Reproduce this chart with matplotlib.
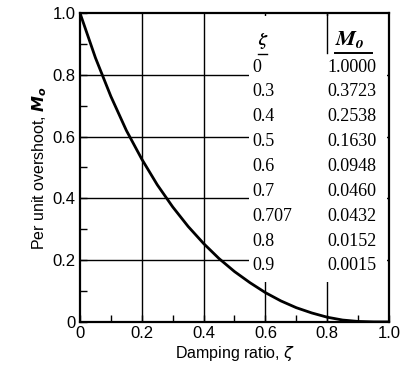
import matplotlib
matplotlib.use("Agg")
import matplotlib.pyplot as plt
from matplotlib.patches import Rectangle

# Curve values
zeta = [0, 0.05, 0.1, 0.15, 0.2, 0.25, 0.3, 0.35, 0.4, 0.45, 0.5,
        0.55, 0.6, 0.65, 0.7, 0.75, 0.8, 0.85, 0.9, 0.95, 1.0]
mo = [1.0, 0.855, 0.73, 0.62, 0.527, 0.444, 0.3723, 0.309, 0.2538, 0.205, 0.163,
      0.127, 0.0948, 0.068, 0.046, 0.029, 0.0152, 0.006, 0.0015, 0.0001, 0.0]

# Table values
table_zeta = ["0", "0.3", "0.4", "0.5", "0.6", "0.7", "0.707", "0.8", "0.9"]
table_mo = ["1.0000", "0.3723", "0.2538", "0.1630", "0.0948", "0.0460",
            "0.0432", "0.0152", "0.0015"]

major_ticks = [0, 0.2, 0.4, 0.6, 0.8, 1.0]
tick_labels = ["0", "0.2", "0.4", "0.6", "0.8", "1.0"]
minor_ticks = [0.1, 0.3, 0.5, 0.7, 0.9]

fig = plt.figure(figsize=(4.0, 3.73), dpi=100)
ax = fig.add_axes([0.2, 0.137, 0.7725, 0.828])

ax.set_xlim(0, 1)
ax.set_ylim(0, 1)

for v in major_ticks[1:-1]:
    ax.axvline(v, color="black", lw=1.0, zorder=1)
    ax.axhline(v, color="black", lw=1.0, zorder=1)

# white area behind table
ax.add_patch(Rectangle((0.548, 0.13), 0.445, 0.86, facecolor="white",
                       edgecolor="none", zorder=2))
# remnant of the 0.8 grid line above the table header
ax.axvline(0.8, ymin=0.87, ymax=1.0, color="black", lw=1.0, zorder=3)

ax.plot(zeta, mo, color="black", lw=2.0, zorder=4)

ax.set_xticks(major_ticks)
ax.set_xticklabels(tick_labels)
ax.set_yticks(major_ticks)
ax.set_yticklabels(tick_labels)
ax.set_xticks(minor_ticks, minor=True)
ax.set_yticks(minor_ticks, minor=True)
ax.tick_params(which="both", direction="in", length=5, width=1.0,
               labelsize=12, pad=3)
for lab in ax.get_xticklabels() + ax.get_yticklabels():
    lab.set_family("Liberation Sans")

for s in ax.spines.values():
    s.set_linewidth(1.6)
    s.set_zorder(5)

ax.set_xlabel(r"Damping ratio, $\zeta$", fontsize=11.5, family="Liberation Sans",
              labelpad=2)
ax.set_ylabel(r"Per unit overshoot, $\mathbfit{M_o}$", fontsize=11.5,
              family="Liberation Sans", labelpad=3)

# table
serif = "Liberation Serif"
x1, x2 = 0.557, 0.80
ax.text(x1 + 0.018, 0.91, r"$\mathbfit{\zeta}$", fontsize=13, ha="left",
        va="center", zorder=6, math_fontfamily="stix")
ax.text(x2 + 0.025, 0.915, r"$\mathbfit{M_o}$", fontsize=16, ha="left", va="center",
        zorder=6, math_fontfamily="stix")
ax.plot([x1 + 0.018, x1 + 0.048], [0.866, 0.866], color="black", lw=1.0, zorder=6)
ax.plot([x2 + 0.025, x2 + 0.145], [0.871, 0.871], color="black", lw=1.4, zorder=6)
for i, (a, b) in enumerate(zip(table_zeta, table_mo)):
    y = 0.825 - 0.0805 * i
    ax.text(x1, y, a, fontsize=13, family=serif, ha="left", va="center", zorder=6)
    ax.text(x2, y, b, fontsize=13, family=serif, ha="left", va="center", zorder=6)

fig.savefig("out.png", dpi=100)
